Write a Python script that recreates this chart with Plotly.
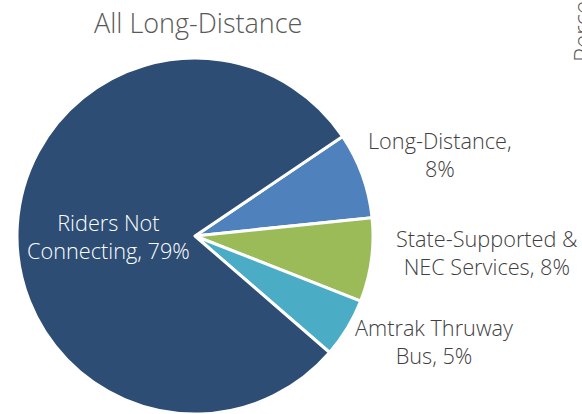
import plotly.graph_objects as go

# Data (clockwise from the upper right)
categories = ["Long-Distance", "State-Supported & NEC Services", "Amtrak Thruway Bus", "Riders Not Connecting"]
shares = [7.8, 7.6, 5.4, 79.2]
label_lines = [["Long-Distance,", "{p}"],
               ["State-Supported &", "NEC Services, {p}"],
               ["Amtrak Thruway", "Bus, {p}"],
               ["Riders Not", "Connecting, {p}"]]
slice_colors = ["#4F81BD", "#9BBB59", "#4BACC6", "#2D4D74"]
title_text = "All Long-Distance"
side_text = "Percent of Riders"

W, H = 582, 414
FONT = "Open Sans, Liberation Sans, Arial, sans-serif"

fig = go.Figure()
fig.add_trace(go.Pie(
    labels=categories,
    values=shares,
    sort=False,
    direction="clockwise",
    rotation=56,
    marker=dict(colors=slice_colors, line=dict(color="white", width=3)),
    textinfo="none",
    hoverinfo="label+percent",
    showlegend=False,
    domain=dict(x=[(195 - 178) / W, (195 + 178) / W], y=[1 - (236 + 178) / H, 1 - (236 - 178) / H]),
))

def px(x, y):
    return x / W, 1 - y / H

label_pos = [(440, 154), (487, 252), (434, 341), (108, 236)]
label_colors = ["#404040", "#404040", "#404040", "white"]
total = sum(shares)
for lines, v, (lx, ly), c in zip(label_lines, shares, label_pos, label_colors):
    p = f"{round(v / total * 100)}%"
    txt = "<br>".join(l.format(p=p) for l in lines)
    ax, ay = px(lx, ly)
    fig.add_annotation(x=ax, y=ay, xref="paper", yref="paper", text=txt, showarrow=False,
                       xanchor="center", yanchor="middle", align="center",
                       font=dict(family=FONT, size=21.7, color=c, weight=300))

tx, ty = px(198, 22)
fig.add_annotation(x=tx, y=ty, xref="paper", yref="paper", text=title_text, showarrow=False,
                   xanchor="center", yanchor="middle",
                   font=dict(family=FONT, size=27, color="#595959", weight=300))

sx, sy = px(563, 64)
fig.add_annotation(x=sx, y=sy, xref="paper", yref="paper", text=side_text, showarrow=False,
                   textangle=-90, xanchor="left", yanchor="bottom",
                   font=dict(family=FONT, size=24, color="#595959", weight=300))

fig.update_layout(width=W, height=H, margin=dict(l=0, r=0, t=0, b=0),
                  paper_bgcolor="white", plot_bgcolor="white")
fig.write_html("out.html", config={"displayModeBar": False},
               post_script="document.body.style.margin='0';")
